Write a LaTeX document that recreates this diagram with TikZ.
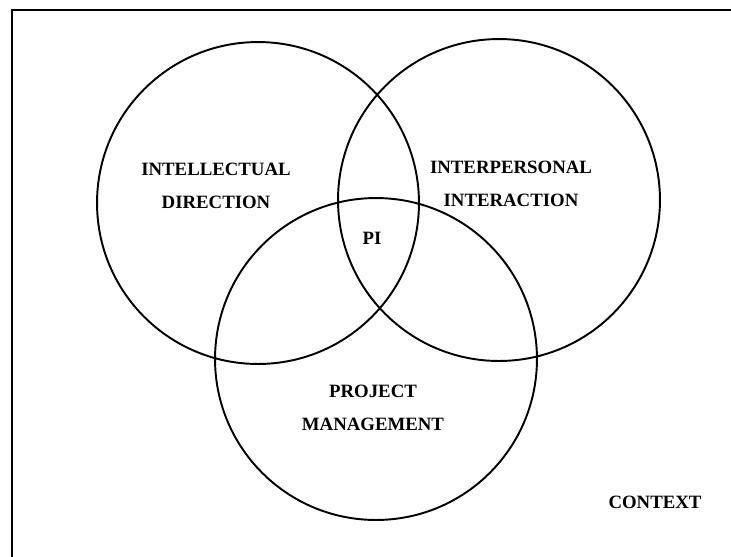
\documentclass[tikz,border=0pt]{standalone}
\usepackage{fontspec}
\setmainfont{Liberation Serif}

\begin{document}
\begin{tikzpicture}[x=0.02cm,y=-0.02cm,
  ring/.style={circle,draw,line width=1.1pt,minimum size=6.44cm,inner sep=0pt},
  tag/.style={font=\bfseries\fontsize{10.7}{18.8}\selectfont,align=center}]
\useasboundingbox (0,0) rectangle (731,556);
\draw[line width=1.3pt] (12,570) |- (745,10);
  \node [ring] (intel) at (258,203) {};
  \node [ring] (inter) at (499,200) {};
  \node [ring] (proj) at (376,359) {};
\node [tag] (intellbl) at (216,186) {INTELLECTUAL\\DIRECTION};
\node [tag] (interlbl) at (511,184) {INTERPERSONAL\\INTERACTION};
\node [tag] (pilbl) at (372,238) {PI};
\node [tag] (projlbl) at (373,408) {PROJECT\\MANAGEMENT};
\node [tag] (ctxlbl) at (655,502) {CONTEXT};
\end{tikzpicture}
\end{document}
